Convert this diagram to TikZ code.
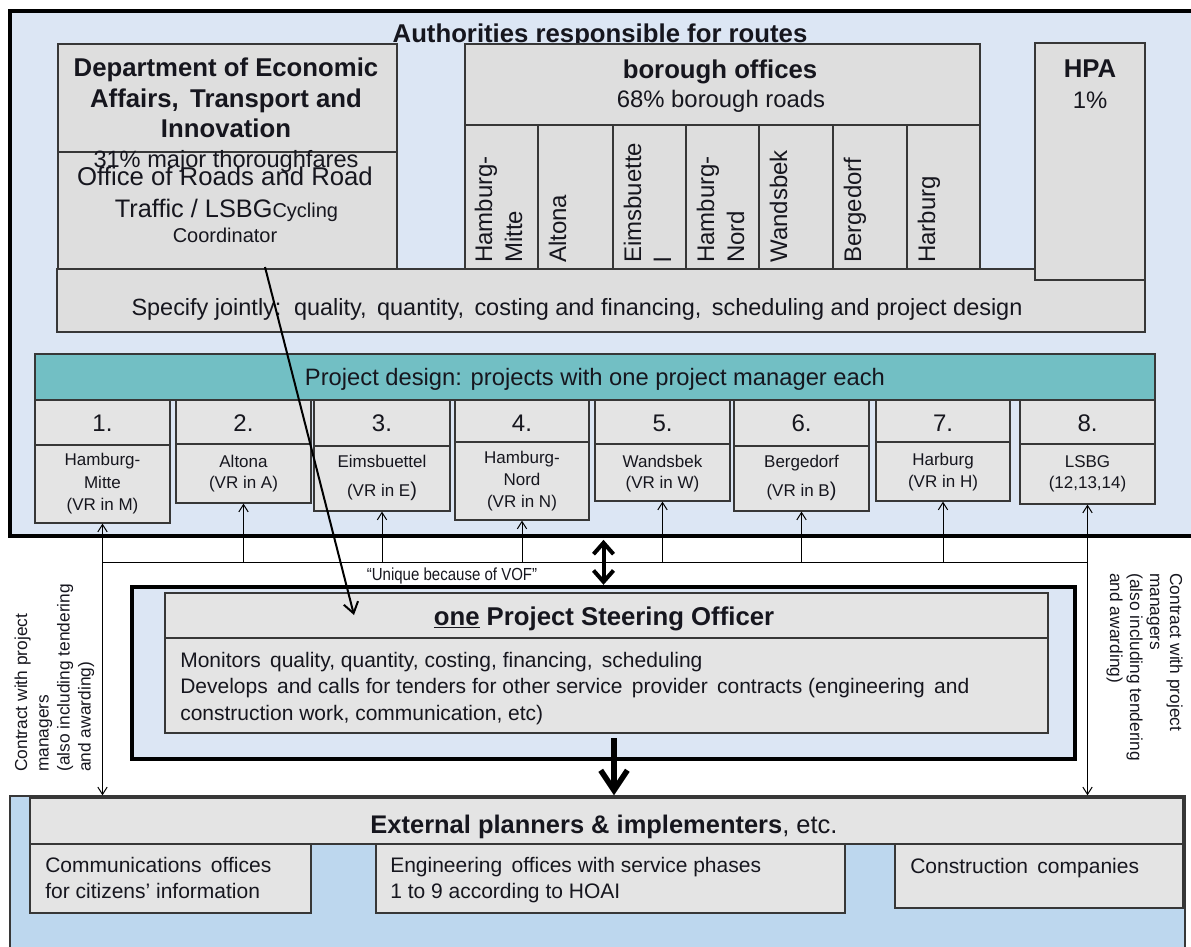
\documentclass[tikz,border=0pt]{standalone}
\usepackage{fontspec}
\setmainfont{Liberation Sans}
\newfontfamily\narrowfont[FakeStretch=0.86]{Liberation Sans}
\usetikzlibrary{arrows.meta,fit}
\definecolor{topblue}{RGB}{220,230,244}
\definecolor{botblue}{RGB}{189,215,238}
\definecolor{boxgray}{RGB}{222,222,222}
\definecolor{pgray}{RGB}{228,228,228}
\definecolor{tealbar}{RGB}{114,191,196}
\definecolor{edge}{RGB}{55,55,55}
\definecolor{ink}{RGB}{22,22,30}
\begin{document}
\begin{tikzpicture}[x=0.75pt,y=-0.75pt,
  every node/.style={text=ink},
  gbox/.style={draw=edge, line width=0.9pt, fill=boxgray, inner sep=0pt},
  t/.style={inner sep=0pt, anchor=base},
  tl/.style={inner sep=0pt, anchor=base west},
  bfT/.style={font=\bfseries\fontsize{19.3}{23}\selectfont},
  conn/.style={line width=0.75pt, draw=black},
  uparr/.style={conn, -{Straight Barb[length=5.5pt,width=7pt]}},
  bothArr/.style={conn, {Straight Barb[length=5.5pt,width=7pt]}-{Straight Barb[length=5.5pt,width=7pt]}},
  dblArr/.style={line width=3pt, {Straight Barb[length=8.5pt,width=15pt]}-{Straight Barb[length=8.5pt,width=15pt]}},
  dnArr/.style={line width=4.2pt, -{Straight Barb[length=15pt,width=20pt]}},
  diagArr/.style={line width=1.5pt, -{Straight Barb[length=8pt,width=11pt]}},
  colT/.style={inner sep=0pt, anchor=base west, rotate=90, font=\fontsize{18}{22}\selectfont},
  sideL/.style={inner sep=0pt, anchor=base west, rotate=90, font=\fontsize{13}{16}\selectfont},
  sideR/.style={inner sep=0pt, anchor=base west, rotate=-90, font=\fontsize{13}{16}\selectfont},
  ptxt/.style={t, font=\fontsize{12.75}{15}\selectfont},
]
\useasboundingbox (0,0) rectangle (1191,946);
% ---------- authorities ----------
\node[fit={(10,11)(1210,536)}, inner sep=0pt, draw=black, line width=2.7pt, fill=topblue] (auth) {};
\node[t, bfT] (authT) at (600,42) {Authorities responsible for routes};
\node[gbox, fit={(57,269)(1145,332)}] (spec) {};
\node[t, font=\fontsize{17.6}{21}\selectfont] (specT) at (577,315) {Specify jointly:\, quality,\, quantity,\, costing and financing,\, scheduling and project design};
% department
\node[gbox, fit={(58,44)(397,152)}] (dept) {};
\node[gbox, fit={(58,152)(397,269)}] (lsbg) {};
\node[t, bfT] (deptT1) at (226,76) {Department of Economic};
\node[t, bfT] (deptT2) at (226,107) {Affairs,\, Transport and};
\node[t, bfT] (deptT3) at (226,137) {Innovation};
\node[t, font=\fontsize{17.7}{21}\selectfont] (maj) at (226,167) {31\% major thoroughfares};
\node[t, font=\fontsize{19.3}{23}\selectfont] (lsbgT1) at (225,185) {Office of Roads and Road};
\node[t, font=\fontsize{19}{23}\selectfont] (lsbgT2) at (226.5,217) {Traffic / LSBG{\fontsize{15}{18}\selectfont Cycling}};
\node[t, font=\fontsize{15}{18}\selectfont] (lsbgT3) at (225,242) {Coordinator};
% borough offices
\node[gbox, fit={(465,44)(980,125)}] (boro) {};
\node[t, bfT] (boroT) at (720,78) {borough offices};
\node[t, font=\fontsize{17.9}{21}\selectfont] (boroS) at (721,107) {68\% borough roads};
\node[gbox, fit={(465,125)(538,269)}] (c1) {};
\node[gbox, fit={(538,125)(613,269)}] (c2) {};
\node[gbox, fit={(613,125)(686,269)}] (c3) {};
\node[gbox, fit={(686,125)(759,269)}] (c4) {};
\node[gbox, fit={(759,125)(833,269)}] (c5) {};
\node[gbox, fit={(833,125)(907,269)}] (c6) {};
\node[gbox, fit={(907,125)(980,269)}] (c7) {};
\node[colT] (c1a) at (492,263) {Hamburg-};
\node[colT] (c1b) at (522,263) {Mitte};
\node[colT] (c2a) at (566,263) {Altona};
\node[colT] (c3a) at (641,263) {Eimsbuette};
\node[colT] (c3b) at (671,263) {l};
\node[colT] (c4a) at (714,263) {Hamburg-};
\node[colT] (c4b) at (744,263) {Nord};
\node[colT] (c5a) at (787,263) {Wandsbek};
\node[colT] (c6a) at (861,263) {Bergedorf};
\node[colT] (c7a) at (935,263) {Harburg};
% HPA
\node[gbox, fit={(1035,43)(1145,280)}] (hpa) {};
\node[t, bfT] (hpaT) at (1090,77) {HPA};
\node[t, font=\fontsize{17.9}{21}\selectfont] (hpaS) at (1090,108) {1\%};
% project design
\node[fit={(35,354)(1155,400)}, inner sep=0pt, draw=edge, line width=0.9pt, fill=tealbar] (pd) {};
\node[t, font=\fontsize{17.8}{21}\selectfont] (pdT) at (595,385) {Project design: projects with one project manager each};
\foreach \i/\xa/\xb/\yd/\yb in {1/35/170/445/523, 2/176/311/444/503, 3/314/450/446/511, 4/455/589/442/520, 5/595/730/444/501, 6/734/869/446/511, 7/876/1010/442/501, 8/1020/1155/444/504}{
  \node[gbox, fill=pgray, fit={(\xa,400)(\xb,\yd)}] (n\i) {};
  \node[gbox, fill=pgray, fit={(\xa,\yd)(\xb,\yb)}] (p\i) {};
  \node[t, font=\fontsize{18}{21}\selectfont] (num\i) at ({(\xa+\xb)/2},431) {\i.};
}
\node[ptxt] (p1a) at (102.5,465) {Hamburg-};
\node[ptxt] (p1b) at (102.5,488) {Mitte};
\node[ptxt] (p1c) at (102.5,510) {(VR in M)};
\node[ptxt] (p2a) at (243.5,467) {Altona};
\node[ptxt] (p2b) at (243.5,488) {(VR in A)};
\node[ptxt] (p3a) at (382,467) {Eimsbuettel};
\node[ptxt] (p3b) at (382,496) {(VR in E{\fontsize{15}{15}\selectfont)}};
\node[ptxt] (p4a) at (522,463) {Hamburg-};
\node[ptxt] (p4b) at (522,485) {Nord};
\node[ptxt] (p4c) at (522,507) {(VR in N)};
\node[ptxt] (p5a) at (662.5,467) {Wandsbek};
\node[ptxt] (p5b) at (662.5,488) {(VR in W)};
\node[ptxt] (p6a) at (801.5,467) {Bergedorf};
\node[ptxt] (p6b) at (801.5,496) {(VR in B{\fontsize{15}{15}\selectfont)}};
\node[ptxt] (p7a) at (943,465) {Harburg};
\node[ptxt] (p7b) at (943,487) {(VR in H)};
\node[ptxt] (p8a) at (1087.5,467) {LSBG};
\node[ptxt] (p8b) at (1087.5,488) {(12,13,14)};
% ---------- external ----------
\node[fit={(10,796)(1185,960)}, inner sep=0pt, draw=edge, line width=1pt, fill=botblue] (ext) {};
\node[gbox, fill=pgray, fit={(30,798)(1183,844)}] (extH) {};
\node[t, font=\fontsize{19.1}{23}\selectfont] (extT) at (604,833) {\textbf{External planners \& implementers}, etc.};
\node[gbox, fill=pgray, fit={(30,844)(311,913)}] (comm) {};
\node[tl, font=\fontsize{15.75}{19}\selectfont] (commA) at (45,872) {Communications\, offices};
\node[tl, font=\fontsize{15.75}{19}\selectfont] (commB) at (45,898) {for citizens’ information};
\node[gbox, fill=pgray, fit={(376,844)(845,913)}] (eng) {};
\node[tl, font=\fontsize{15.75}{19}\selectfont] (engA) at (390,872) {Engineering\, offices with service phases};
\node[tl, font=\fontsize{15.75}{19}\selectfont] (engB) at (390,898) {1 to 9 according to HOAI};
\node[gbox, fill=pgray, fit={(895,844)(1183,908)}] (cons) {};
\node[tl, font=\fontsize{15.75}{19}\selectfont] (consA) at (910,873) {Construction\, companies};
% ---------- steering officer ----------
\node[fit={(132,587)(1075,759)}, inner sep=0pt, draw=black, line width=3.3pt, fill=topblue] (pso) {};
\node[gbox, fill=pgray, fit={(165,593)(1048,638)}] (psoT) {};
\node[gbox, fill=pgray, fit={(165,638)(1048,733)}] (psoB) {};
\node[t, bfT] (psoTitle) at (604,625) {\underline{one} Project Steering Officer};
\node[tl, font=\fontsize{15.75}{19}\selectfont] (psoL1) at (180,667) {Monitors\, quality, quantity, costing, financing,\, scheduling};
\node[tl, font=\fontsize{15.75}{19}\selectfont] (psoL2) at (180,693) {Develops\, and calls for tenders for other service\, provider\, contracts (engineering\, and};
\node[tl, font=\fontsize{15.75}{19}\selectfont] (psoL3) at (180,720) {construction work, communication, etc)};
\node[t, font=\narrowfont\fontsize{13.1}{16}\selectfont] (vof) at (452,580) {“Unique because of VOF”};
% side texts
\node[sideL] (sl1) at (27,772) {Contract with project};
\node[sideL] (sl2) at (48.5,772) {managers};
\node[sideL] (sl3) at (69.5,772) {(also including tendering};
\node[sideL] (sl4) at (90.5,772) {and awarding)};
\node[sideR] (sr1) at (1170,573) {Contract with project};
\node[sideR] (sr2) at (1150,573) {managers};
\node[sideR] (sr3) at (1130,573) {(also including tendering};
\node[sideR] (sr4) at (1110,573) {and awarding)};
% ---------- connectors ----------
\coordinate (busY) at (0,562);
\draw[conn] (p1.south |- busY) -- (p8.south |- busY);
\foreach \i in {2,...,7} \draw[uparr] (p\i.south |- busY) -- (p\i.south);
\draw[bothArr] (p1.south |- ext.north) -- (p1.south);
\draw[bothArr] (p8.south |- ext.north) -- (p8.south);
\draw[dblArr, shorten <=1.5pt] (pso.north |- auth.south) -- (pso.north);
\coordinate (dnS) at (614,738);
\draw[dnArr] (dnS) -- (dnS |- ext.north);
\coordinate (lsbgPt) at (265,267);
\coordinate (psoPt) at (354,615);
\draw[diagArr] (lsbgPt) -- (psoPt);
\end{tikzpicture}
\end{document}
